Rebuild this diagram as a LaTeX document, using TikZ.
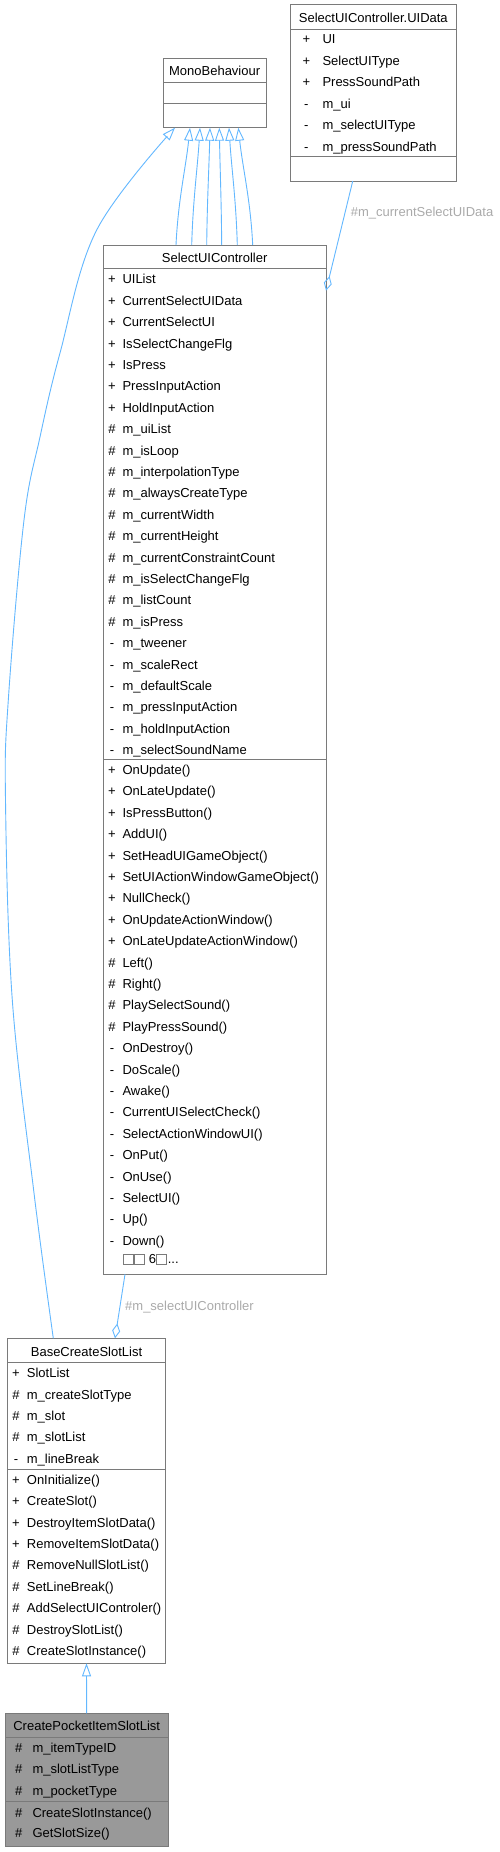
\documentclass[tikz,border=0pt]{standalone}
\usepackage{fontspec}
\setmainfont{Liberation Sans}
\usetikzlibrary{arrows.meta}
\definecolor{edgeblue}{HTML}{63B8FF}
\definecolor{boxborder}{HTML}{7A7A7A}
\definecolor{lblgray}{HTML}{AAAAAA}
\definecolor{curfill}{HTML}{999999}
\newcommand\classrows[6]{%
  \foreach \sy/\nm [count=\i] in {#6} {%
    \node[symtxt] (#1s\i) at ({#2},{#4+(\i-1)*#5+4.6}) {\sy};
    \node[rowtxt] (#1n\i) at ({#3},{#4+(\i-1)*#5+4.6}) {\nm};
  }}
\begin{document}
\begin{tikzpicture}[x=1pt,y=-1pt,
  box/.style={draw=boxborder, line width=1pt, fill=white, inner sep=0pt, outer sep=0pt, anchor=north west},
  sepline/.style={draw=boxborder, line width=1pt},
  symtxt/.style={font=\fontsize{13}{15}\selectfont, inner sep=0pt, anchor=base},
  rowtxt/.style={font=\fontsize{13}{15}\selectfont, inner sep=0pt, anchor=base west},
  ttltxt/.style={font=\fontsize{13}{15}\selectfont, inner sep=0pt, anchor=base},
  lbltxt/.style={font=\fontsize{13}{15}\selectfont, inner sep=0pt, anchor=west, text=lblgray},
  inh/.style={draw=edgeblue, line width=0.9pt, -{Triangle[open, length=13pt, width=9pt]}},
  agg/.style={draw=edgeblue, line width=0.9pt, -{Diamond[open, length=15pt, width=8pt]}},
  tofu/.style={draw=boxborder, line width=0.6pt}
]
\fill[white] (0,0) rectangle (500,1852);
\useasboundingbox (0,0) rectangle (500,1852);

% ---------- boxes ----------
\node[box, minimum width=165.3pt, minimum height=176pt] (uid) at (290.7,5) {};
\node[box, minimum width=102.7pt, minimum height=69.4pt] (mono) at (163.3,58.3) {};
\node[box, minimum width=222.7pt, minimum height=1029.3pt] (sui) at (103.3,245) {};
\node[box, minimum width=158.4pt, minimum height=325pt] (bcs) at (7.3,1338.3) {};
\node[box, fill=curfill, minimum width=163.3pt, minimum height=133.4pt] (cpi) at (5,1713.3) {};

% separators
\draw[sepline] (290.7,29.3) -- (456,29.3);
\draw[sepline] (290.7,156.7) -- (456,156.7);
\draw[sepline] (163.3,82.3) -- (266,82.3);
\draw[sepline] (163.3,103.7) -- (266,103.7);
\draw[sepline] (103.3,268.3) -- (326,268.3);
\draw[sepline] (103.3,759) -- (326,759);
\draw[sepline] (7.3,1362.7) -- (165.7,1362.7);
\draw[sepline] (7.3,1469) -- (165.7,1469);
\draw[sepline] (5,1737.3) -- (168.3,1737.3);
\draw[sepline] (5,1801.7) -- (168.3,1801.7);

% titles
\node[ttltxt] (uidt) at (373.3,22.6) {SelectUIController.UIData};
\node[ttltxt] (monot) at (214.65,75.6) {MonoBehaviour};
\node[ttltxt] (suit) at (214.65,262.9) {SelectUIController};
\node[ttltxt] (bcst) at (86.5,1356.3) {BaseCreateSlotList};
\node[ttltxt] (cpit) at (86.7,1730.6) {CreatePocketItemSlotList};

% rows
\classrows{uida}{306.3}{322.3}{39.3}{21.48}{+/UI, +/SelectUIType, +/PressSoundPath, -/m\_ui, -/m\_selectUIType, -/m\_pressSoundPath}

\classrows{suia}{112}{122.3}{279.3}{21.4}{+/UIList, +/CurrentSelectUIData, +/CurrentSelectUI, +/IsSelectChangeFlg, +/IsPress, +/PressInputAction, +/HoldInputAction, \#/m\_uiList, \#/m\_isLoop, \#/m\_interpolationType, \#/m\_alwaysCreateType, \#/m\_currentWidth, \#/m\_currentHeight, \#/m\_currentConstraintCount, \#/m\_isSelectChangeFlg, \#/m\_listCount, \#/m\_isPress, -/m\_tweener, -/m\_scaleRect, -/m\_defaultScale, -/m\_pressInputAction, -/m\_holdInputAction, -/m\_selectSoundName}

\classrows{suim}{112}{122.3}{769.8}{21.4}{+/OnUpdate(), +/OnLateUpdate(), +/IsPressButton(), +/AddUI(), +/SetHeadUIGameObject(), +/SetUIActionWindowGameObject(), +/NullCheck(), +/OnUpdateActionWindow(), +/OnLateUpdateActionWindow(), \#/Left(), \#/Right(), \#/PlaySelectSound(), \#/PlayPressSound(), -/OnDestroy(), -/DoScale(), -/Awake(), -/CurrentUISelectCheck(), -/SelectActionWindowUI(), -/OnPut(), -/OnUse(), -/SelectUI(), -/Up(), -/Down()}

% "and more" row with missing-glyph boxes
\draw[tofu] (123.3,1254.3) rectangle (133.3,1264.3);
\draw[tofu] (134.6,1254.3) rectangle (144.6,1264.3);
\node[rowtxt] (suimore) at (148.6,1263.9) {6};
\draw[tofu] (156.7,1254.3) rectangle (166.7,1264.3);
\node[rowtxt] (suidots) at (167.6,1263.9) {...};

\classrows{bcsa}{16}{26.7}{1373.3}{21.35}{+/SlotList, \#/m\_createSlotType, \#/m\_slot, \#/m\_slotList, -/m\_lineBreak}

\classrows{bcsm}{16}{26.7}{1479.7}{21.4}{+/OnInitialize(), +/CreateSlot(), +/DestroyItemSlotData(), +/RemoveItemSlotData(), \#/RemoveNullSlotList(), \#/SetLineBreak(), \#/AddSelectUIControler(), \#/DestroySlotList(), \#/CreateSlotInstance()}

\classrows{cpia}{18.8}{32.3}{1747.7}{21.5}{\#/m\_itemTypeID, \#/m\_slotListType, \#/m\_pocketType}

\classrows{cpim}{18.8}{32.3}{1812.7}{20.6}{\#/CreateSlotInstance(), \#/GetSlotSize()}

% ---------- connectors ----------
\foreach \s/\e in {-38.65/-24.65, -22.95/-14.65, -7.95/-4.65, 7.05/4.65, 22.65/14.35, 38.05/23.65} {
  \draw[inh] ([xshift=\s pt]sui.north) .. controls +({0.15*((\e)-(\s))},-45) and +({-0.3*((\e)-(\s))},40) .. ([xshift=\e pt]mono.south);
}

\draw[inh] plot[smooth, tension=0.6] coordinates {([xshift=-33.2pt]bcs.north) (34,1193) (12.3,1000) (5.5,800) (8.3,700) (24,520) (40,437) (60,353) (96.7,230) ([xshift=11.7pt]mono.south west)};

\draw[inh] (cpi.north) -- (bcs.south);

\draw[agg] ([xshift=-20.6pt]uid.south) -- ([yshift=-45.7pt]sui.north east);
\node[lbltxt] (lbl1) at (350.7,213.3) {\#m\_currentSelectUIData};

\draw[agg] ([xshift=-89.65pt]sui.south) -- ([xshift=28.5pt]bcs.north);
\node[lbltxt] (lbl2) at (125,1306.7) {\#m\_selectUIController};
\end{tikzpicture}
\end{document}
